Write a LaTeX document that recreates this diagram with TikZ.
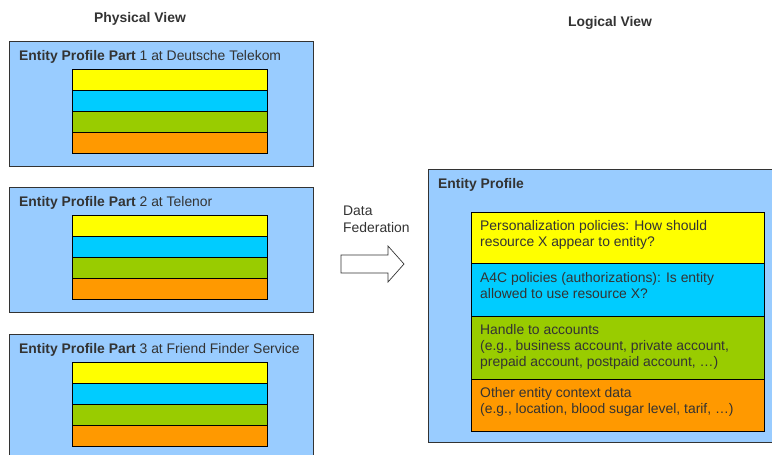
\documentclass[tikz,border=0pt]{standalone}
\usepackage{fontspec}
\setmainfont{Liberation Sans}
\definecolor{bluebg}{HTML}{99CCFF}
\definecolor{lyellow}{HTML}{FFFF00}
\definecolor{lcyan}{HTML}{00CCFF}
\definecolor{lgreen}{HTML}{99CC00}
\definecolor{lorange}{HTML}{FF9900}
\definecolor{txt}{HTML}{333333}
\definecolor{edge}{HTML}{333333}
\tikzset{
  part/.style={draw=edge, line width=1pt, fill=bluebg},
  stripe/.style={draw=black, line width=0.9pt},
  lbl/.style={inner sep=0pt, anchor=base west, text=txt, font=\fontsize{13.9}{16}\selectfont},
  ttl/.style={inner sep=0pt, anchor=base, text=txt, font=\fontsize{13.9}{16}\selectfont\bfseries},
}
\begin{document}
\begin{tikzpicture}[x=1pt,y=-1pt]
\useasboundingbox (0,0) rectangle (772,455);
\clip (0,0) rectangle (772,455);
\node[ttl] (phys) at (140,23) {Physical View};
\node[ttl] (logi) at (610,27) {Logical View};
% physical parts
\foreach \n/\t/\c in {1/41/Deutsche Telekom, 2/187/Telenor, 3/334/Friend Finder Service}{
  \pgfmathsetmacro{\b}{\n==3 ? 470 : \t+125}
  \draw[part] (9.5,\t) rectangle (313,\b);
  \node[lbl] (pt\n) at (19,\t+19) {\textbf{Entity Profile Part} \n\ at \c};
  \pgfmathsetmacro{\sy}{\t+28}
  \draw[stripe, fill=lyellow] (72,\sy) rectangle (267,\sy+21);
  \draw[stripe, fill=lcyan] (72,\sy+21) rectangle (267,\sy+42);
  \draw[stripe, fill=lgreen] (72,\sy+42) rectangle (267,\sy+63);
  \draw[stripe, fill=lorange] (72,\sy+63) rectangle (267,\sy+84);
}
% federation arrow
\node[lbl] (fed1) at (343,215) {Data};
\node[lbl] (fed2) at (343,232) {Federation};
\draw[draw=edge, line width=0.7pt, fill=white] (341,255) -- (388,255) -- (388,246) -- (404,264) -- (388,282) -- (388,273) -- (341,273) -- cycle;
% logical view
\draw[part] (428,169) rectangle (780,442);
\node[lbl] (ep) at (438,188) {\textbf{Entity Profile}};
\draw[stripe, fill=lyellow] (471,212) rectangle (764,263);
\draw[stripe, fill=lcyan] (471,263) rectangle (764,316);
\draw[stripe, fill=lgreen] (471,316) rectangle (764,379);
\draw[stripe, fill=lorange] (471,379) rectangle (764,431);
\node[lbl] (l1a) at (480,230) {Personalization policies: How should};
\node[lbl] (l1b) at (480,246) {resource X appear to entity?};
\node[lbl] (l2a) at (480,282) {A4C policies (authorizations): Is entity};
\node[lbl] (l2b) at (480,298) {allowed to use resource X?};
\node[lbl] (l3a) at (480,334) {Handle to accounts};
\node[lbl] (l3b) at (480,350) {(e.g., business account, private account,};
\node[lbl] (l3c) at (480,366) {prepaid account, postpaid account, \dots)};
\node[lbl] (l4a) at (480,397) {Other entity context data};
\node[lbl] (l4b) at (480,413) {(e.g., location, blood sugar level, tarif, \dots)};
\end{tikzpicture}
\end{document}
